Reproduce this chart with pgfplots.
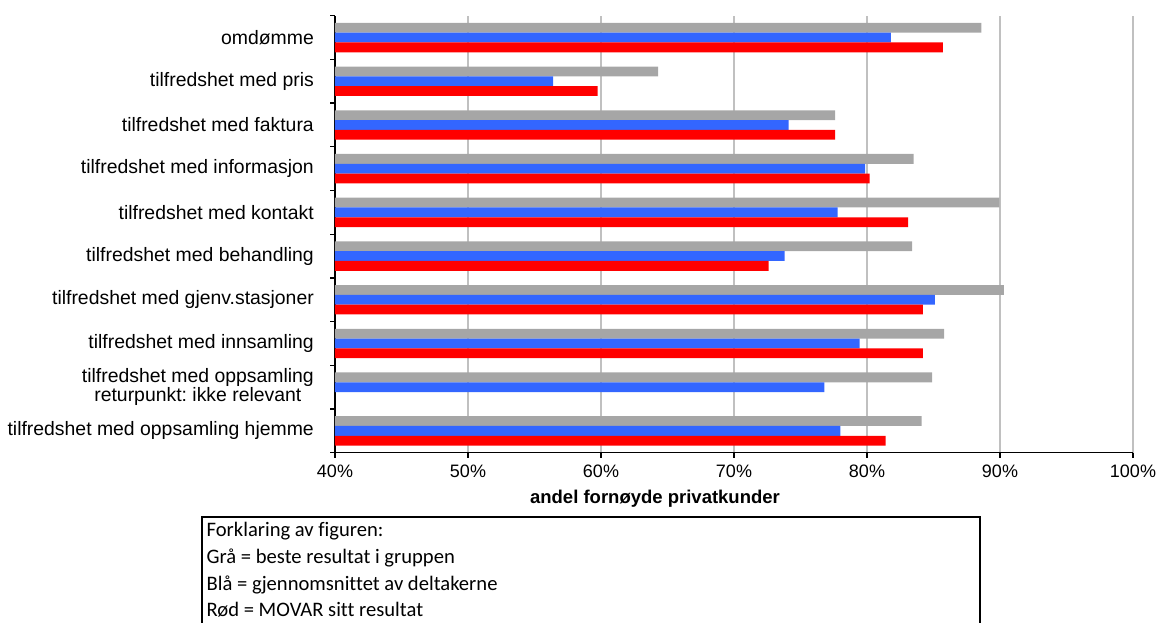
\documentclass[border=0pt]{standalone}
\usepackage{pgfplots}
\pgfplotsset{compat=1.18}
\usepackage{fontspec}
\setmainfont{Liberation Sans}
\newfontfamily\carlito[Ligatures=NoCommon]{Carlito}
\definecolor{cgray}{HTML}{A6A6A6}
\definecolor{cblue}{HTML}{3366FF}
\definecolor{cred}{HTML}{FF0000}
\definecolor{cgrid}{HTML}{C0C0C0}
\frenchspacing
\begin{document}
\begin{tikzpicture}[x=1pt,y=1pt]
\begin{axis}[
  at={(335pt,-452.7pt)}, anchor=south west,
  scale only axis, width=798pt, height=437pt,
  xmin=40, xmax=100, ymin=-0.5, ymax=9.5,
  xbar, bar width=9.8pt,
  axis x line*=bottom, axis y line*=left,
  axis line style={black, line width=1.3pt},
  xtick={40,50,60,70,80,90,100},
  xticklabels={40\%,50\%,60\%,70\%,80\%,90\%,100\%},
  xmajorgrids, major grid style={cgrid, line width=1.3pt},
  tick align=outside,
  major tick length=5pt,
  every major x tick/.style={black, line width=1.3pt},
  ytick={0,...,9},
  every major y tick/.style={draw=none},
  minor ytick={-0.5,0.5,...,9.5},
  minor tick length=4.5pt,
  every minor y tick/.style={black, line width=1.3pt},
  yticklabels={{tilfredshet med oppsamling hjemme},{tilfredshet med oppsamling\\returpunkt: ikke relevant},{tilfredshet med innsamling},{tilfredshet med gjenv.stasjoner},{tilfredshet med behandling},{tilfredshet med kontakt},{tilfredshet med informasjon},{tilfredshet med faktura},{tilfredshet med pris},{omdømme}},
  yticklabel style={font=\fontsize{19.4}{17}\selectfont, align=center, anchor=east, inner sep=0pt, xshift=-16pt},
  xticklabel style={font=\fontsize{18}{20}\selectfont, yshift=-4pt},
  xlabel={andel fornøyde privatkunder},
  xlabel style={font=\bfseries\fontsize{18.5}{20}\selectfont, at={(axis description cs:0.401,0)}, anchor=base, yshift=-50.6pt},
]
\addplot[fill=cgray, draw=none, bar shift=9.8pt] coordinates {
(88.6,9) (64.3,8) (77.6,7) (83.5,6) (89.95,5) (83.4,4) (90.3,3) (85.8,2) (84.9,1) (84.1,0)};
\addplot[fill=cblue, draw=none, bar shift=0pt] coordinates {
(81.8,9) (56.4,8) (74.1,7) (79.85,6) (77.8,5) (73.8,4) (85.1,3) (79.45,2) (76.8,1) (78.0,0)};
\addplot[fill=cred, draw=none, bar shift=-9.8pt] coordinates {
(85.7,9) (59.75,8) (77.6,7) (80.2,6) (83.1,5) (72.6,4) (84.2,3) (84.2,2) (81.4,0)};
\end{axis}
\draw[black, line width=1.3pt] (202,-517) rectangle (980,-660);
\begin{scope}[every node/.style={anchor=base west, inner sep=0pt, font=\carlito\fontsize{20.6}{26.7}\selectfont}]
\node at (206.5,-536.7) {Forklaring av figuren:};
\node at (206.5,-563.3) {Grå = beste resultat i gruppen};
\node at (206.5,-590) {Blå = gjennomsnittet av deltakerne};
\node at (206.5,-616.7) {Rød = MOVAR sitt resultat};
\end{scope}
\pgfresetboundingbox
\useasboundingbox (0,0) rectangle (1160,-623);
\end{tikzpicture}
\end{document}
